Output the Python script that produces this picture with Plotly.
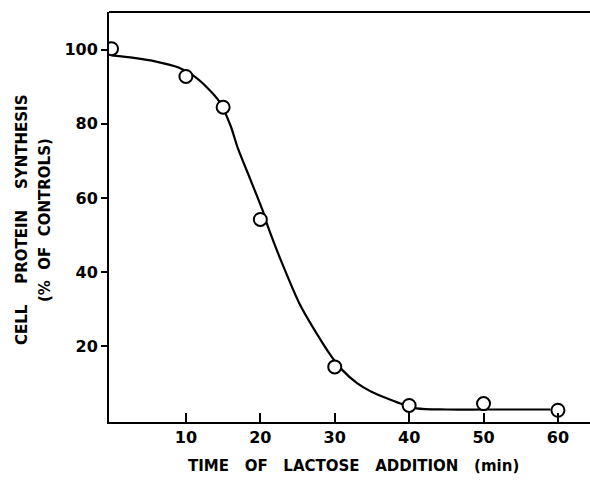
import plotly.graph_objects as go

# measured points
time_min = [0, 10, 15, 20, 30, 40, 50, 60]
synthesis_pct = [100.3, 92.8, 84.5, 54.2, 14.4, 4.0, 4.5, 2.7]

# fitted curve
curve_x = [0, 3, 6, 9, 11, 13, 14.5, 16, 17, 18.6, 20.3, 21, 23, 25.3, 27.6, 29.6, 31, 33, 35, 37.4, 39.1, 41, 45, 50, 55, 59]
curve_y = [98.5, 97.8, 96.8, 95.2, 93, 89.5, 86, 79.5, 73.3, 65.3, 56.7, 52.4, 42, 31.3, 23.3, 17.1, 13.6, 10, 7.6, 5.6, 4.3, 3.2, 2.9, 2.9, 2.9, 2.9]

x_ticks = [10, 20, 30, 40, 50, 60]
y_ticks = [20, 40, 60, 80, 100]

fig = go.Figure()
fig.add_trace(go.Scatter(x=curve_x, y=curve_y, mode="lines",
                         line=dict(color="black", width=2.2, shape="spline", smoothing=0.8),
                         hoverinfo="skip", showlegend=False))
fig.add_trace(go.Scatter(x=time_min, y=synthesis_pct, mode="markers",
                         marker=dict(symbol="circle", size=13, color="white",
                                     line=dict(color="black", width=2)),
                         showlegend=False))

font_family = "DejaVu Sans"
W = 600            # figure slightly wider than the window so the frame runs off the right edge
L = 109
PW = W - L

def j(words, n):
    return ("&nbsp;" * n).join(words)

fig.update_layout(
    width=W, height=481,
    margin=dict(l=L, r=0, t=12, b=59),
    paper_bgcolor="white", plot_bgcolor="white",
    font=dict(family=font_family, color="black"),
    xaxis=dict(range=[-0.34, -0.34 + PW / 7.44], tickvals=x_ticks, ticktext=[str(v) for v in x_ticks],
               ticks="inside", ticklen=9, tickwidth=1.5, tickcolor="black",
               showline=True, linecolor="black", linewidth=2, mirror=False,
               showgrid=False, zeroline=False,
               tickfont=dict(size=16, family=font_family, weight="bold")),
    yaxis=dict(range=[-0.47, 110.2], tickvals=y_ticks, ticktext=[str(v) for v in y_ticks],
               ticks="outside", ticklen=6, tickwidth=1.5, tickcolor="black",
               showline=True, linecolor="black", linewidth=2, mirror=False,
               showgrid=False, zeroline=False,
               tickfont=dict(size=16, family=font_family, weight="bold")),
    shapes=[dict(type="line", xref="paper", yref="paper", x0=0, x1=1, y0=1, y1=1,
                 line=dict(color="black", width=2))],
    annotations=[
        dict(text=j(["TIME", "OF", "LACTOSE", "ADDITION", "(min)"], 3),
             xref="paper", yref="paper", x=(353 - L) / PW, y=-(466 - 422) / 410,
             xanchor="center", yanchor="middle", showarrow=False,
             font=dict(size=15, family=font_family, weight="bold")),
        dict(text=j(["CELL", "PROTEIN", "SYNTHESIS"], 4),
             xref="paper", yref="paper", x=-(L - 22) / PW, y=(422 - 220) / 410,
             xanchor="center", yanchor="middle", showarrow=False, textangle=-90,
             font=dict(size=15, family=font_family, weight="bold")),
        dict(text=j(["(%", "OF", "CONTROLS)"], 2),
             xref="paper", yref="paper", x=-(L - 45) / PW, y=(422 - 220) / 410,
             xanchor="center", yanchor="middle", showarrow=False, textangle=-90,
             font=dict(size=15, family=font_family, weight="bold")),
    ],
)

fig.write_html("out.html", config={"displayModeBar": False},
               post_script="document.body.style.margin='0';document.body.style.overflow='hidden';")
